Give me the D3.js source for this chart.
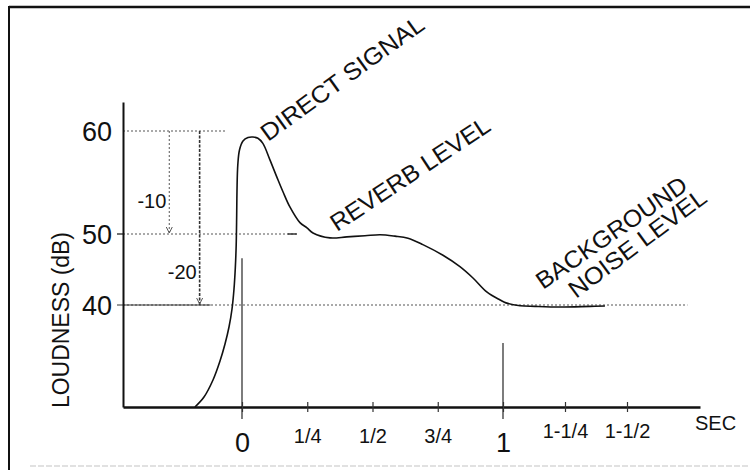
<!DOCTYPE html>
<html>
<head>
<meta charset="utf-8">
<script src="https://cdn.jsdelivr.net/npm/d3@7"></script>
<style>
  html, body { margin: 0; padding: 0; background: #fff; }
  svg { display: block; font-family: "Liberation Sans", Arial, Helvetica, sans-serif; }
</style>
</head>
<body>
<svg id="chart" width="750" height="470"></svg>
<script>
// Loudness envelope of a sound event: time (sec) vs loudness (dB)
const curveSec = [-0.180, -0.1453, -0.1109, -0.0841, -0.0650, -0.0497, -0.0382, -0.0306, -0.0256, -0.0222,
  -0.0203, -0.0191, -0.0161, -0.0096, 0.0038, 0.023, 0.042, 0.061, 0.080, 0.107, 0.134, 0.157, 0.184, 0.222,
  0.249, 0.272, 0.337, 0.402, 0.471, 0.529, 0.586, 0.636, 0.693, 0.770, 0.835, 0.885, 0.939, 0.989, 1.012,
  1.069, 1.129, 1.230, 1.351, 1.411];
const curveDb = [25, 26.47, 28.97, 31.76, 34.26, 36.76, 39.41, 42.25, 45.21, 48.45,
  51.84, 54.27, 56.70, 58.16, 59.03, 59.37, 59.42, 59.3, 58.8, 57.2, 55.5, 54.1, 52.6, 51.1,
  50.6, 50.1, 49.45, 49.6, 49.75, 49.9, 49.7, 49.4, 48.5, 47.0, 45.4, 43.8, 41.8, 40.7, 40.3,
  39.9, 39.8, 39.7, 39.8, 39.85];

// Axis ticks
const xTickValues = [0, 0.25, 0.5, 0.75, 1, 1.25, 1.5];
const xTickLabels = ["0", "1/4", "1/2", "3/4", "1", "1-1/4", "1-1/2"];
const yTickValues = [40, 50, 60];
const yTickLabels = ["40", "50", "60"];

// Reference levels (dB) and where their guide lines stop (sec)
const refDb = [60, 50, 40];
const refEndSec = [-0.065, 0.21, 1.74];

// Level drops measured from the 60 dB peak
const dropLabels = ["-10", "-20"];
const dropSec = [-0.278, -0.162];
const dropToDb = [50, 40];

// Time markers at 0 s and 1 s
const markerSec = [0, 1];
const markerTopDb = [46.6, 34.4];

// Slanted callouts: text, anchor (sec, dB), angle, text length
const noteText = ["DIRECT SIGNAL", "REVERB LEVEL", "BACKGROUND", "NOISE LEVEL"];
const noteSec = [0.0996, 0.364, 1.161, 1.294];
const noteDb = [58.93, 50.19, 42.1, 40.85];
const noteAngle = [-35.8, -33.4, -34.7, -36.5];
const noteLen = [195, 186, 178, 165];

const svg = d3.select("#chart");
const ink = "#111";

// Frame
svg.append("line").attr("x1", 9).attr("x2", 750).attr("y1", 7).attr("y2", 7)
  .attr("stroke", ink).attr("stroke-width", 2.5);
svg.append("line").attr("x1", 9).attr("x2", 9).attr("y1", 6).attr("y2", 470)
  .attr("stroke", ink).attr("stroke-width", 2);
svg.append("line").attr("x1", 30).attr("x2", 750).attr("y1", 466).attr("y2", 466)
  .attr("stroke", "#d8d8d8").attr("stroke-width", 1.5).attr("stroke-dasharray", "6,2");

// Hand-drawn axes: the dB spacing widens toward the top
const x = d3.scaleLinear().domain([-0.455, 0, 1, 1.5, 1.79]).range([123, 242, 503, 627, 700]);
const y = d3.scaleLinear().domain([25, 40, 50, 60, 62.8]).range([407, 305, 234, 131, 102]);

// Reference level guide lines
refDb.forEach((db, i) => {
  svg.append("line")
    .attr("x1", x(-0.455)).attr("x2", x(refEndSec[i]))
    .attr("y1", y(db)).attr("y2", y(db))
    .attr("stroke", "#555").attr("stroke-width", 1.1).attr("stroke-dasharray", "2,2");
});
// short solid stubs at the 50 and 40 dB levels
svg.append("line").attr("x1", x(-0.455) - 6).attr("x2", x(-0.455)).attr("y1", y(50)).attr("y2", y(50))
  .attr("stroke", ink).attr("stroke-width", 1.2);
svg.append("line").attr("x1", x(-0.455) - 6).attr("x2", x(-0.12)).attr("y1", y(40)).attr("y2", y(40))
  .attr("stroke", "#333").attr("stroke-width", 1.2);
svg.append("line").attr("x1", x(0.175)).attr("x2", x(0.21)).attr("y1", y(50)).attr("y2", y(50))
  .attr("stroke", "#333").attr("stroke-width", 1.5);

// Drop arrows with labels
dropSec.forEach((s, i) => {
  const xx = x(s);
  svg.append("line")
    .attr("x1", xx).attr("x2", xx).attr("y1", y(60)).attr("y2", y(dropToDb[i]))
    .attr("stroke", i === 0 ? "#666" : "#333")
    .attr("stroke-width", i === 0 ? 1.1 : 1.6)
    .attr("stroke-dasharray", i === 0 ? "2,2" : "3,1.5");
  const yb = y(dropToDb[i]);
  svg.append("path")
    .attr("d", `M${xx - 3},${yb - 7} L${xx},${yb - 1} L${xx + 3},${yb - 7}`)
    .attr("fill", "none").attr("stroke", "#555").attr("stroke-width", 1);
  const mid = (y(60) + yb) / 2;
  svg.append("text")
    .attr("x", xx - 3).attr("y", i === 0 ? mid + 25 : mid + 61)
    .attr("text-anchor", "end").attr("font-size", 20).attr("fill", ink)
    .text(dropLabels[i]);
});

// Time markers
markerSec.forEach((s, i) => {
  svg.append("line")
    .attr("x1", x(s)).attr("x2", x(s))
    .attr("y1", y(markerTopDb[i])).attr("y2", y(25) + 12)
    .attr("stroke", ink).attr("stroke-width", 1.1);
});

// Y axis
const yAxis = d3.axisLeft(y).tickValues(yTickValues)
  .tickFormat((d, i) => yTickLabels[i]).tickSize(0).tickPadding(11);
const gy = svg.append("g").attr("transform", `translate(${x(-0.455)},0)`).call(yAxis);
gy.select(".domain").attr("stroke", ink).attr("stroke-width", 2);
gy.selectAll("text").attr("font-size", 27).attr("fill", ink)
  .attr("font-family", '"Liberation Sans", Arial, sans-serif').attr("dy", "0.36em");

// X axis
const xAxis = d3.axisBottom(x).tickValues(xTickValues)
  .tickFormat((d, i) => xTickLabels[i]).tickSizeInner(5).tickSizeOuter(0).tickPadding(0);
const gx = svg.append("g").attr("transform", `translate(0,${y(25)})`).call(xAxis);
gx.select(".domain").attr("stroke", ink).attr("stroke-width", 2.5);
gx.selectAll(".tick line").attr("y1", -5).attr("y2", 5).attr("stroke", "#333").attr("stroke-width", 1.2);
gx.selectAll(".tick text")
  .attr("font-family", '"Liberation Sans", Arial, sans-serif')
  .attr("fill", ink)
  .attr("dy", null)
  .attr("font-size", d => (d === 0 || d === 1) ? 27 : 20)
  .attr("y", d => (d === 0 || d === 1) ? 45 : (d > 1 ? 31 : 36));

svg.append("text").attr("x", 695).attr("y", 430).attr("font-size", 20).attr("fill", ink).text("SEC");

// Y title
svg.append("text")
  .attr("transform", "translate(69,320) rotate(-90)")
  .attr("text-anchor", "middle").attr("font-size", 23).attr("fill", ink)
  .attr("textLength", 176).attr("lengthAdjust", "spacingAndGlyphs")
  .text("LOUDNESS  (dB)");

// Loudness envelope
const line = d3.line()
  .x((d, i) => x(curveSec[i]))
  .y((d, i) => y(curveDb[i]))
  .curve(d3.curveCatmullRom.alpha(0.5));
svg.append("path")
  .attr("d", line(curveSec))
  .attr("fill", "none").attr("stroke", ink).attr("stroke-width", 1.6)
  .attr("stroke-linejoin", "round");

// Slanted callouts
noteText.forEach((t, i) => {
  svg.append("text")
    .attr("transform", `translate(${x(noteSec[i])},${y(noteDb[i])}) rotate(${noteAngle[i]})`)
    .attr("font-size", 24).attr("fill", ink)
    .attr("textLength", noteLen[i]).attr("lengthAdjust", "spacingAndGlyphs")
    .text(t);
});
</script>
</body>
</html>
